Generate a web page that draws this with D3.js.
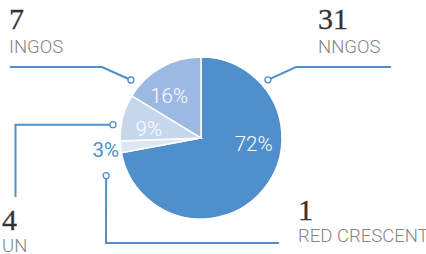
<!DOCTYPE html>
<meta charset="utf-8">
<head>
  <style>
    body { margin: 0; background: #fff; }
    .num { font-family: "Liberation Serif", serif; font-size: 30px; fill: #333; stroke: #333; stroke-width: 0.3px; }
    .name { font-family: Roboto, sans-serif; font-size: 18.5px; font-weight: 300; fill: #858585; }
    .pct { font-family: Roboto, sans-serif; font-size: 20.5px; font-weight: 300; }
  </style>
</head>
<body>
<div id="my_dataviz"></div>
<script src="https://d3js.org/d3.v7.min.js"></script>
<script>

// data
var categories = ["NNGOS", "RED CRESCENT", "UN", "INGOS"];
var counts = [31, 1, 4, 7];
var pctLabels = ["72%", "3%", "9%", "16%"];
var sliceColors = ["#4f8fcb", "#dde7f4", "#c6d6ed", "#9bb9e1"];

var width = 426, height = 254;
var cx = 201, cy = 138, radius = 81;
var lineColor = "#4f8fcb";

var svg = d3.select("#my_dataviz")
  .append("svg")
    .attr("width", width)
    .attr("height", height);

var data = categories.map(function(c, i) {
  return {name: c, count: counts[i], pct: pctLabels[i], color: sliceColors[i]};
});

var pie = d3.pie().sort(null).value(function(d) { return d.count; });
var arcs = pie(data);
var arc = d3.arc().innerRadius(0).outerRadius(radius);

var g = svg.append("g").attr("transform", "translate(" + cx + "," + cy + ")");

g.selectAll("path.slice")
  .data(arcs)
  .enter()
  .append("path")
    .attr("class", "slice")
    .attr("d", arc)
    .attr("fill", function(d) { return d.data.color; })
    .attr("stroke", "#fff")
    .attr("stroke-width", 1.5);

// helper: polar -> xy (angle in radians, clockwise from 12 o'clock)
function polar(a, r) { return [cx + r * Math.sin(a), cy - r * Math.cos(a)]; }

// percentage labels sit ~37% of the way through each slice
g.selectAll("text.pct")
  .data(arcs)
  .enter()
  .append("text")
    .attr("class", "pct")
    .attr("text-anchor", "middle")
    .attr("dy", "0.35em")
    .each(function(d) {
      var small = (d.endAngle - d.startAngle) < 0.3;
      var a = d.startAngle + 0.37 * (d.endAngle - d.startAngle);
      var p = polar(a, small ? 96 : 53);
      d3.select(this)
        .attr("x", p[0] - cx)
        .attr("y", p[1] - cy)
        .attr("fill", small ? lineColor : "#fff")
        .style("font-weight", small ? 400 : 300);
    })
    .text(function(d) { return d.data.pct; });

// callouts (layout only)
var deg = Math.PI / 180;
var callouts = {
  "INGOS":        {dot: polar(309.6 * deg, 91),  bend: [[102, 67], [10, 67]],   tx: 9,   numY: 29,  nameY: 53},
  "NNGOS":        {dot: polar(49 * deg, 88.6),   bend: [[296, 67], [391, 67]],  tx: 318, numY: 29,  nameY: 53},
  "UN":           {dot: polar(278.6 * deg, 89),  bend: [[15.5, 124.7], [15.5, 197]], tx: 2, numY: 230, nameY: 252},
  "RED CRESCENT": {dot: polar(248.4 * deg, 102), bend: [[106, 243], [279, 243]], tx: 298, numY: 220, nameY: 242}
};

var lineGen = d3.line();

data.forEach(function(d) {
  var c = callouts[d.name];
  svg.append("path")
    .attr("d", lineGen([c.dot].concat(c.bend)))
    .attr("fill", "none")
    .attr("stroke", lineColor)
    .attr("stroke-width", 2);
  svg.append("circle")
    .attr("cx", c.dot[0])
    .attr("cy", c.dot[1])
    .attr("r", 3)
    .attr("fill", "#fff")
    .attr("stroke", lineColor)
    .attr("stroke-width", 1.3);
  svg.append("text")
    .attr("class", "num")
    .attr("x", c.tx)
    .attr("y", c.numY)
    .text(d.count);
  svg.append("text")
    .attr("class", "name")
    .attr("x", c.tx)
    .attr("y", c.nameY)
    .text(d.name);
});

</script>
</body>
